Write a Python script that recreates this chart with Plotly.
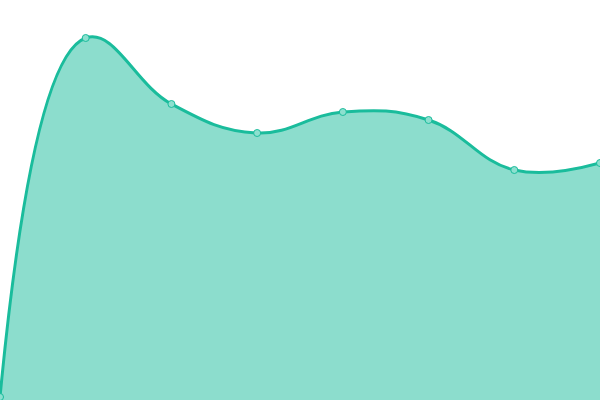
import plotly.graph_objs as go

# values (0 at the bottom edge, 400 at the top)
x_vals = [0, 1, 2, 3, 4, 5, 6, 7]
y_vals = [3, 362, 296, 267, 288, 280, 230, 237]

line_color = '#1abc9c'
fill_color = 'rgba(26,188,156,0.5)'

fig = go.Figure()
fig.add_trace(go.Scatter(
    x=x_vals,
    y=y_vals,
    mode='lines+markers',
    line=dict(color=line_color, width=3, shape='spline', smoothing=1.2),
    fill='tozeroy',
    fillcolor=fill_color,
    marker=dict(size=7, color='#8ce0cf', line=dict(color=line_color, width=1)),
    cliponaxis=False,
    hoverinfo='skip'
))

fig.update_layout(
    width=600, height=400,
    margin=dict(l=0, r=0, t=0, b=0),
    paper_bgcolor='white',
    plot_bgcolor='white',
    showlegend=False,
    xaxis=dict(range=[0, 7], visible=False, fixedrange=True),
    yaxis=dict(range=[0, 400], visible=False, fixedrange=True),
)

# the page body has a default 8px margin, drop it so the chart fills the window
fix_margin = """
document.body.style.margin = '0';
document.body.style.overflow = 'hidden';
var gd = document.getElementById('{plot_id}');
Plotly.relayout(gd, {width: 600, height: 400});
"""

fig.write_html("out.html", post_script=fix_margin, config={'displayModeBar': False})
